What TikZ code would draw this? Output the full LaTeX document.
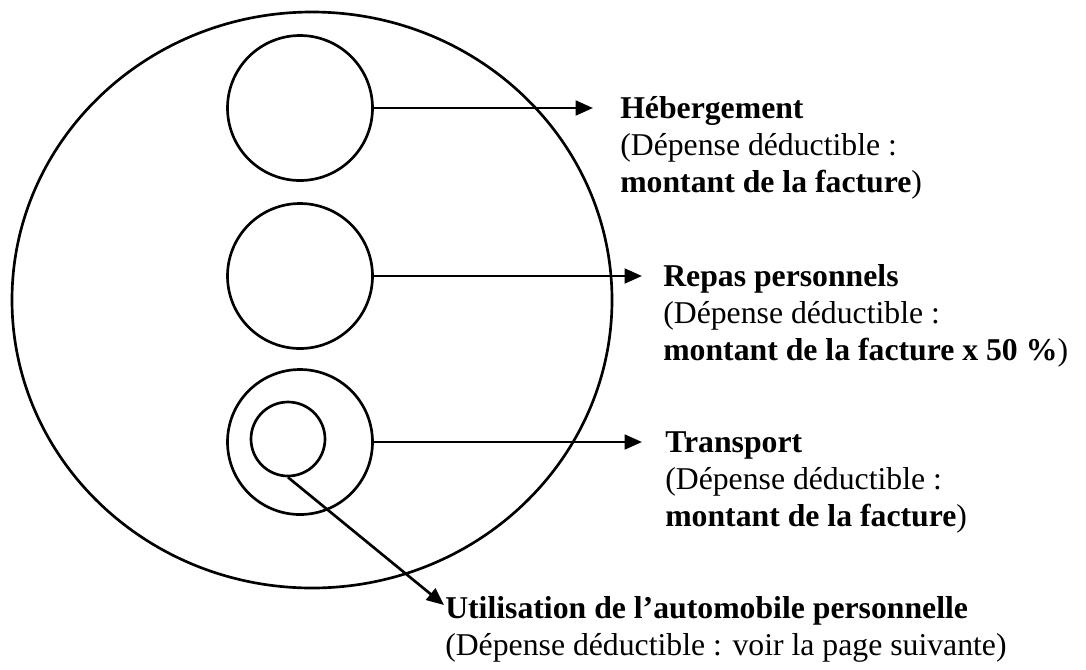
\documentclass[tikz,border=0pt]{standalone}
\usepackage{fontspec}
\setmainfont{Liberation Serif}
\usetikzlibrary{shapes.geometric,arrows.meta}
\tikzset{
  ring/.style={circle, draw, line width=2pt, inner sep=0pt},
  pointer/.style={line width=2pt, -{Triangle[length=13pt,width=11pt]}},
  lbl/.style={anchor=base west, inner sep=0pt, font=\fontsize{23.8}{28.1}\selectfont}
}
\newcommand{\lines}[1]{\begin{tabular}[t]{@{}l@{}}#1\end{tabular}}
\begin{document}
\begin{tikzpicture}[x=0.75pt, y=-0.75pt]
  \useasboundingbox (0,0) rectangle (1086,669);

  % outer set
  \node[ellipse, draw, line width=2pt, inner sep=0pt,
        minimum width=450pt, minimum height=432pt] (outer) at (312,300) {};

  % expense categories
  \node[ring, minimum size=108.75pt] (heb) at (300,108) {};
  \node[ring, minimum size=108.75pt] (rep) at (300,276) {};
  \node[ring, minimum size=108.75pt] (tra) at (300,442) {};
  \node[ring, minimum size=55.5pt]   (aut) at (288,439) {};

  % arrow tips
  \coordinate (hebtip) at (593,108);
  \coordinate (reptip) at (642,276);
  \coordinate (tratip) at (642,442);
  \coordinate (auttip) at (444,605);

  \draw[pointer] (heb.east) -- (hebtip);
  \draw[pointer] (rep.east) -- (reptip);
  \draw[pointer] (tra.east) -- (tratip);
  \draw[pointer] (aut.south) -- (auttip);

  % labels
  \node[lbl] (hebtxt) at (620,118) {\lines{\textbf{Hébergement}\\(Dépense déductible :\\\textbf{montant de la facture})}};
  \node[lbl] (reptxt) at (663,286) {\lines{\textbf{Repas personnels}\\(Dépense déductible :\\\textbf{montant de la facture x 50 \%})}};
  \node[lbl] (tratxt) at (665,452) {\lines{\textbf{Transport}\\(Dépense déductible :\\\textbf{montant de la facture})}};
  \node[lbl] (auttxt) at (445,618) {\lines{\textbf{Utilisation de l’automobile personnelle}\\(Dépense déductible : voir la page suivante)}};
\end{tikzpicture}
\end{document}
